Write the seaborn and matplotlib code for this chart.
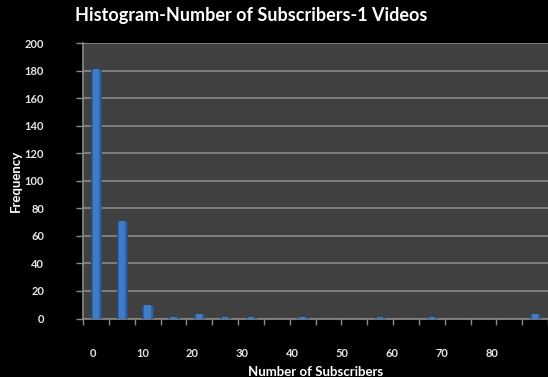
import numpy as np
import pandas as pd
import matplotlib
matplotlib.use("Agg")
import matplotlib.pyplot as plt
import seaborn as sns

# Histogram bins (lower edge of each 5-subscriber bin) and their counts
bin_starts = [0, 5, 10, 15, 20, 25, 30, 35, 40, 45, 50, 55, 60, 65, 70, 75, 80, 85]
frequency = [181, 71, 10, 1, 3, 1, 1, 0, 1, 0, 0, 1, 0, 1, 0, 0, 0, 3]
x_labels = ["0", "10", "20", "30", "40", "50", "60", "70", "80"]
y_ticks = [0, 20, 40, 60, 80, 100, 120, 140, 160, 180, 200]

df = pd.DataFrame({"bin": [str(b) for b in bin_starts], "freq": frequency})

sns.set_theme(style="dark")
plt.rcParams["font.family"] = ["Lato", "DejaVu Sans"]

fig = plt.figure(figsize=(5.48, 3.77), dpi=100, facecolor="black")
ax = fig.add_axes([83 / 548, 1 - 318.5 / 377, 1 - 83 / 548, (318.5 - 43) / 377])
ax.set_facecolor("#404040")

# cylinder-like bars: darker body with a lighter core
sns.barplot(data=df, x="bin", y="freq", ax=ax, color="#2f62a6", width=0.40,
            saturation=1, edgecolor="#24497c", linewidth=0.5, zorder=3)
sns.barplot(data=df, x="bin", y="freq", ax=ax, color="#3f7cc8", width=0.24,
            saturation=1, linewidth=0, zorder=4)

ax.set_ylim(0, 200)
ax.set_xlim(-0.5, 17.25)
ax.set_yticks(y_ticks)
ax.set_yticklabels([str(v) for v in y_ticks], color="#e6e6e6",
                   fontsize=8, fontweight="bold")
ax.yaxis.grid(True, color="#8a8a8a", linewidth=1.2, zorder=1)
ax.xaxis.grid(False)
ax.set_axisbelow(True)

# labels every two bins, tick marks on bin boundaries
label_pos = np.arange(len(x_labels)) * 1.93 - 0.12
ax.set_xticks(label_pos)
ax.set_xticklabels(x_labels, color="#e6e6e6", fontsize=8, fontweight="bold")
ax.set_xticks(np.arange(len(bin_starts) + 1) - 0.5, minor=True)
ax.tick_params(axis="x", which="major", length=0, pad=21)
ax.tick_params(axis="x", which="minor", length=4, width=1, color="#8a8a8a",
               direction="out", bottom=True)
ax.tick_params(axis="y", which="major", length=5, width=1, color="#8a8a8a",
               direction="out", left=True, pad=23)

for side in ["top", "right"]:
    ax.spines[side].set_visible(False)
for side in ["left", "bottom"]:
    ax.spines[side].set_visible(True)
    ax.spines[side].set_color("#8a8a8a")
    ax.spines[side].set_linewidth(1.2)

ax.set_xlabel("Number of Subscribers", color="white", fontsize=9.5,
              fontweight="bold", labelpad=5)
ax.set_ylabel("Frequency", color="white", fontsize=9.5, fontweight="bold",
              labelpad=2)
fig.text(251 / 548, 1 - 15 / 377, "Histogram-Number of Subscribers-1 Videos",
         color="white", fontsize=13, fontweight="bold",
         ha="center", va="center")

fig.savefig("out.png", dpi=100, facecolor="black")
